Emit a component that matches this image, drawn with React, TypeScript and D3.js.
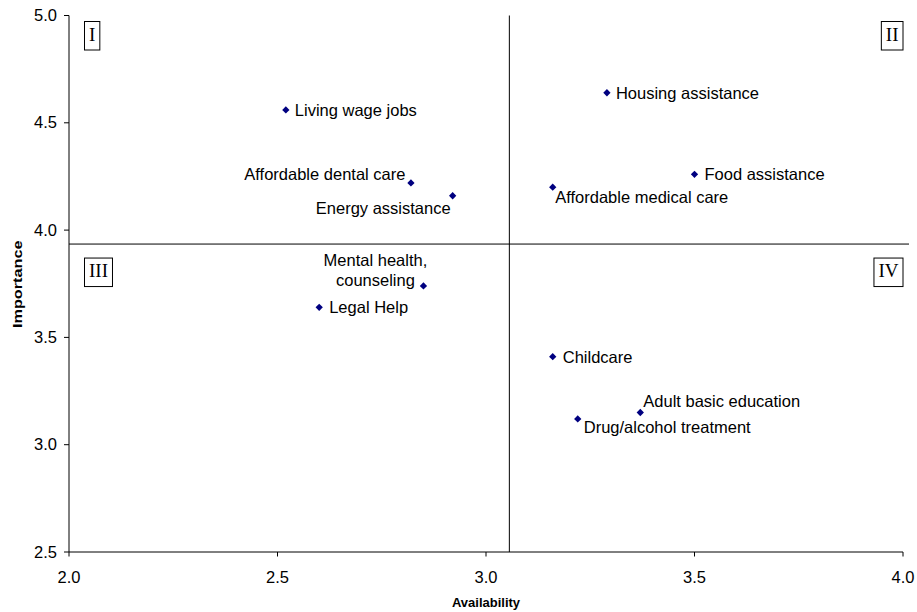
import React from "react";
import * as d3 from "d3";

// ---- data ----
const categories = [
  "Living wage jobs",
  "Housing assistance",
  "Food assistance",
  "Affordable medical care",
  "Affordable dental care",
  "Energy assistance",
  "Mental health, counseling",
  "Legal Help",
  "Childcare",
  "Adult basic education",
  "Drug/alcohol treatment",
];
const availability = [2.52, 3.29, 3.5, 3.16, 2.82, 2.92, 2.85, 2.6, 3.16, 3.37, 3.22];
const importance = [4.56, 4.64, 4.26, 4.2, 4.22, 4.16, 3.74, 3.64, 3.41, 3.15, 3.12];
const xTicks = [2.0, 2.5, 3.0, 3.5, 4.0];
const yTicks = [2.5, 3.0, 3.5, 4.0, 4.5, 5.0];
const quadrantLabels = ["I", "II", "III", "IV"];
const availabilityMean = 3.056;
const importanceMean = 3.935;

// ---- layout (label placement per point) ----
type Place = { anchor: "start" | "end" | "middle"; dx: number; dy: number; lines?: string[] };
const placements: Place[] = [
  { anchor: "start", dx: 9, dy: 5.8 },
  { anchor: "start", dx: 9, dy: 5.8 },
  { anchor: "start", dx: 10, dy: 5.8 },
  { anchor: "start", dx: 2.5, dy: 15.8 },
  { anchor: "end", dx: -5.5, dy: -3.3 },
  { anchor: "end", dx: -2, dy: 18.3 },
  { anchor: "middle", dx: -48, dy: 0, lines: ["Mental health,", "counseling"] },
  { anchor: "start", dx: 10, dy: 6 },
  { anchor: "start", dx: 10, dy: 5.8 },
  { anchor: "start", dx: 3, dy: -6 },
  { anchor: "start", dx: 6, dy: 14.3 },
];

const W = 917;
const H = 612;
const left = 69;
const right = 903;
const top = 15.5;
const bottom = 552;
const sans = "'Liberation Sans', Arial, sans-serif";
const serif = "'Liberation Serif', 'Times New Roman', serif";
const navy = "#000080";

const romanWidth = (s: string, fs: number) =>
  s.split("").reduce((a, c) => a + (c === "I" ? 0.333 : 0.722) * fs, 0);

export default function App() {
  const x = d3.scaleLinear().domain([2.0, 4.0]).range([left, right]);
  const y = d3.scaleLinear().domain([2.5, 5.0]).range([bottom, top]);
  const fmt = d3.format(".1f");
  const diamond = d3.symbol().type(d3.symbolDiamond2).size(34)();
  const labelFs = 16.5;
  const romanFs = 19;
  const boxH = 28.5;

  const boxes = quadrantLabels.map((q, i) => {
    const w = romanWidth(q, romanFs) + 9;
    const isRight = i === 1 || i === 3;
    const isTop = i < 2;
    const bx = isRight ? x(4.0) - w : x(2.0) + 15.5;
    const by = isTop ? y(5.0) + 6 : y(importanceMean) + 14;
    return { q, w, bx, by };
  });

  return (
    <svg
      width={W}
      height={H}
      style={{ position: "absolute", left: 0, top: 0, background: "#fff" }}
    >
      <rect x={0} y={0} width={W} height={H} fill="#fff" />
      {/* axes */}
      <line x1={x(2.0)} x2={x(2.0)} y1={y(5.0)} y2={y(2.5)} stroke="#000" strokeWidth={1} />
      <line x1={x(2.0)} x2={x(4.0)} y1={y(2.5)} y2={y(2.5)} stroke="#000" strokeWidth={1} />
      {yTicks.map((t) => (
        <g key={"y" + t}>
          <line x1={x(2.0) - 5} x2={x(2.0)} y1={y(t)} y2={y(t)} stroke="#000" />
          <text
            x={x(2.0) - 12}
            y={y(t) + 5.6}
            textAnchor="end"
            fontFamily={sans}
            fontSize={labelFs}
            fill="#000"
          >
            {fmt(t)}
          </text>
        </g>
      ))}
      {xTicks.map((t) => (
        <g key={"x" + t}>
          <line x1={x(t)} x2={x(t)} y1={y(2.5)} y2={y(2.5) + 4.5} stroke="#000" />
          <text
            x={x(t)}
            y={y(2.5) + 30.5}
            textAnchor="middle"
            fontFamily={sans}
            fontSize={labelFs}
            fill="#000"
          >
            {fmt(t)}
          </text>
        </g>
      ))}
      {/* quadrant lines */}
      <line
        x1={x(availabilityMean)}
        x2={x(availabilityMean)}
        y1={y(5.0)}
        y2={y(2.5)}
        stroke="#000"
        strokeWidth={1}
      />
      <line
        x1={x(2.0)}
        x2={x(4.0) + 6}
        y1={y(importanceMean)}
        y2={y(importanceMean)}
        stroke="#000"
        strokeWidth={1}
      />
      {/* quadrant boxes */}
      {boxes.map((b) => (
        <g key={b.q}>
          <rect x={b.bx} y={b.by} width={b.w} height={boxH} fill="#fff" stroke="#000" strokeWidth={1} />
          <text
            x={b.bx + b.w / 2}
            y={b.by + 19.4}
            textAnchor="middle"
            fontFamily={serif}
            fontSize={romanFs}
            fill="#000"
          >
            {b.q}
          </text>
        </g>
      ))}
      {/* points */}
      {categories.map((c, i) => {
        const px = x(availability[i]);
        const py = y(importance[i]);
        const p = placements[i];
        return (
          <g key={c}>
            <path d={diamond || ""} transform={`translate(${px},${py})`} fill={navy} />
            {p.lines ? (
              <text
                x={px + p.dx}
                y={py + p.dy}
                textAnchor={p.anchor}
                fontFamily={sans}
                fontSize={labelFs}
                fill="#000"
              >
                <tspan x={px + p.dx} dy={-20}>
                  {p.lines[0]}
                </tspan>
                <tspan x={px + p.dx} dy={20}>
                  {p.lines[1]}
                </tspan>
              </text>
            ) : (
              <text
                x={px + p.dx}
                y={py + p.dy}
                textAnchor={p.anchor}
                fontFamily={sans}
                fontSize={labelFs}
                fill="#000"
              >
                {c}
              </text>
            )}
          </g>
        );
      })}
      {/* axis titles */}
      <text
        x={(x(2.0) + x(4.0)) / 2}
        y={606.5}
        textAnchor="middle"
        fontFamily={sans}
        fontSize={13}
        fontWeight="bold"
        fill="#000"
      >
        Availability
      </text>
      <text
        transform={`translate(21.5,${(y(5.0) + y(2.5)) / 2 + 0.5}) rotate(-90) scale(1.25,1)`}
        textAnchor="middle"
        fontFamily={sans}
        fontSize={13}
        fontWeight="bold"
        fill="#000"
      >
        Importance
      </text>
    </svg>
  );
}
